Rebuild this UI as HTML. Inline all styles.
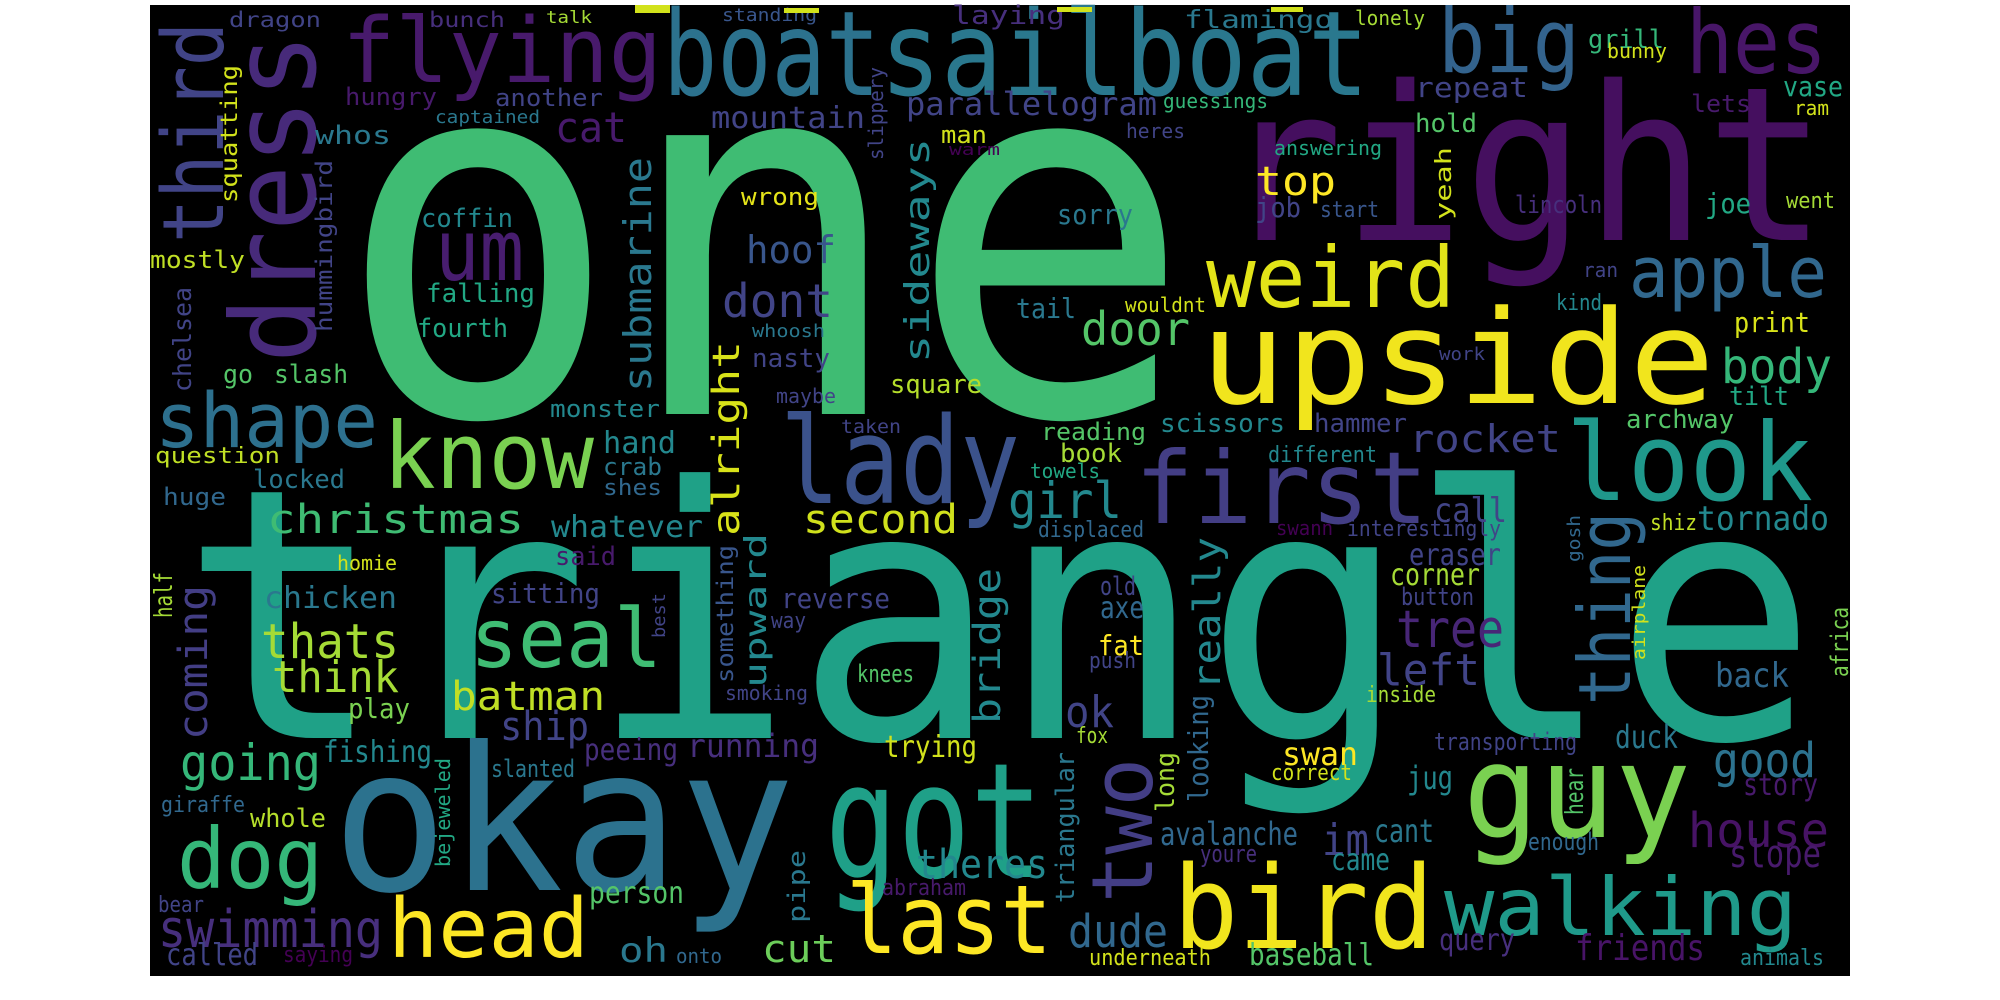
<!DOCTYPE html>
<html><head><meta charset="utf-8"><style>
html,body{margin:0;padding:0;background:#fff;width:2000px;height:1000px;overflow:hidden}
svg{display:block}
text{font-family:"DejaVu Sans Mono","Liberation Mono",monospace}
</style></head><body>
<svg id="cloud" width="2000" height="1000" viewBox="0 0 2000 1000" xmlns="http://www.w3.org/2000/svg">
<rect x="150" y="5" width="1700" height="971" fill="#000"/>
<g id="words"></g>
<rect x="635" y="5" width="35" height="8" fill="#d2e21b"/>
<rect x="784" y="8" width="35" height="5" fill="#d2e21b"/>
<rect x="1057" y="7" width="35" height="5" fill="#d2e21b"/>
<rect x="1271" y="7" width="32" height="5" fill="#d2e21b"/>
</svg>
<script>
// horizontal words: [text, x, baseline, fontSize, width, color]
const horizontalWords = [
["dragon",229,27,21,92,"#414487"],["bunch",429,27,21,76,"#472f7d"],["talk",546,23,17,46,"#a5db36"],
["standing",722,21,18,95,"#39568c"],["laying",952,24,26,113,"#472f7d"],["flying",342,82,90,320,"#481a6c"],
["boat",663,95,118,217,"#2c728e"],["sailboat",880,95,118,489,"#2a788e"],["flamingo",1184,28,25,149,"#2a788e"],
["lonely",1355,25,20,70,"#a5db36"],["big",1438,72,88,142,"#33638d"],["hes",1686,73,88,141,"#481668"],
["grill",1588,48,26,76,"#35b779"],["bunny",1607,58,20,60,"#d2e21b"],["vase",1783,96,28,60,"#22a884"],
["ram",1794,115,20,35,"#d2e21b"],["lets",1691,112,24,60,"#481a6c"],["repeat",1415,97,28,113,"#414487"],
["guessings",1163,108,20,105,"#35b779"],["parallelogram",906,115,32,251,"#414487"],["mountain",711,128,30,154,"#414487"],
["hungry",345,105,24,92,"#481a6c"],["another",495,106,24,108,"#414487"],["captained",435,123,18,105,"#2a788e"],
["cat",555,142,42,72,"#481a6c"],["whos",315,144,26,76,"#2a788e"],["man",941,143,24,46,"#d2e21b"],
["warm",949,155,16,51,"#440154"],["heres",1126,138,20,59,"#414487"],["hold",1415,132,26,62,"#54c568"],
["answering",1274,155,20,108,"#22a884"],["top",1255,195,40,81,"#fde725"],["job",1255,217,28,46,"#414487"],
["start",1320,217,22,59,"#39568c"],["lincoln",1515,213,24,87,"#472f7d"],["joe",1705,213,28,46,"#22a884"],
["went",1786,208,22,49,"#a5db36"],["sorry",1057,224,28,76,"#2a788e"],["one",335,414,510,858,"#3fbc73"],
["right",1222,240,215,605,"#450f5f"],["um",435,280,85,89,"#481d6f"],["coffin",421,227,26,92,"#23888e"],
["wrong",741,205,24,78,"#e5e419"],["hoof",746,263,38,90,"#39568c"],["mostly",150,268,24,95,"#c0df25"],
["weird",1206,307,84,249,"#e2e418"],["apple",1629,297,70,198,"#31688e"],["ran",1583,277,20,35,"#414487"],
["tail",1016,318,28,60,"#2a788e"],["wouldnt",1125,312,20,81,"#d2e21b"],["kind",1556,310,22,46,"#23888e"],
["falling",426,302,26,109,"#22a884"],["dont",722,317,46,111,"#414487"],["fourth",417,337,26,91,"#22a884"],
["whoosh",752,337,18,73,"#2a788e"],["door",1081,345,46,109,"#54c568"],["upside",1200,403,130,515,"#f1e51d"],
["print",1734,332,28,76,"#d8e219"],["body",1721,383,48,111,"#35b779"],["work",1439,360,18,46,"#414487"],
["nasty",752,367,26,78,"#414487"],["go",223,383,26,30,"#54c568"],["slash",274,383,26,74,"#54c568"],
["square",890,393,26,92,"#b5de2b"],["maybe",776,403,20,60,"#414487"],["tilt",1729,405,26,60,"#22a884"],
["monster",550,417,24,110,"#23888e"],["scissors",1160,432,26,125,"#23888e"],["hammer",1314,432,26,93,"#414487"],
["archway",1626,428,26,108,"#54c568"],["taken",841,433,19,60,"#414487"],["rocket",1409,452,38,152,"#414487"],
["reading",1041,440,24,105,"#54c568"],["shape",155,447,76,223,"#2d708e"],["hand",603,453,30,73,"#23888e"],
["book",1060,462,26,62,"#a5db36"],["different",1268,462,22,109,"#23888e"],["question",155,463,22,125,"#c0df25"],
["crab",603,475,24,59,"#2a788e"],["towels",1030,478,20,70,"#22a884"],["know",383,488,92,211,"#7ad151"],
["locked",253,488,26,92,"#2a788e"],["shes",603,495,22,59,"#31688e"],["lady",780,503,120,240,"#3b528b"],
["huge",163,505,24,63,"#31688e"],["look",1566,500,108,247,"#1f988b"],["first",1135,523,100,293,"#433e85"],
["girl",1008,518,50,114,"#23888e"],["call",1434,522,34,73,"#414487"],["christmas",267,533,40,257,"#3fbc73"],
["whatever",551,537,30,152,"#23888e"],["second",803,533,40,155,"#d0e11c"],["displaced",1038,537,22,106,"#31688e"],
["swann",1276,535,20,57,"#440154"],["interestingly",1347,536,22,154,"#414487"],["shiz",1650,530,22,47,"#c0df25"],
["tornado",1697,530,34,132,"#23888e"],["eraser",1409,565,30,92,"#414487"],["homie",337,570,20,60,"#d2e21b"],
["said",555,565,26,61,"#481a6c"],["corner",1390,585,30,90,"#a5db36"],["old",1100,595,26,36,"#414487"],
["chicken",264,608,30,133,"#2a788e"],["sitting",491,603,28,109,"#414487"],["reverse",781,608,28,109,"#414487"],
["button",1401,605,24,73,"#414487"],["axe",1100,618,30,44,"#31688e"],["way",771,628,22,35,"#414487"],
["tree",1396,647,52,108,"#482677"],["fat",1098,655,28,46,"#fde725"],["thats",261,658,48,138,"#a5db36"],
["seal",470,667,82,192,"#3fbc73"],["push",1089,668,22,47,"#414487"],["knees",857,682,24,57,"#54c568"],
["left",1377,685,44,103,"#414487"],["back",1715,687,34,74,"#31688e"],["think",272,692,44,127,"#a5db36"],
["inside",1366,702,22,70,"#a5db36"],["smoking",725,700,20,83,"#414487"],["batman",451,710,40,154,"#c0df25"],
["play",348,718,28,62,"#7ad151"],["ok",1065,727,44,49,"#414487"],["triangle",180,738,350,1638,"#1fa187"],
["ship",500,740,40,89,"#414487"],["fox",1076,743,22,32,"#a5db36"],["duck",1615,748,32,63,"#2a788e"],
["transporting",1434,750,24,143,"#414487"],["running",687,757,32,132,"#472f7d"],["peeing",584,760,30,94,"#472f7d"],
["trying",884,757,30,93,"#d2e21b"],["fishing",323,762,30,109,"#23888e"],["swan",1282,765,32,76,"#fde725"],
["correct",1271,780,22,81,"#d2e21b"],["slanted",491,777,24,84,"#2a788e"],["going",180,780,50,141,"#35b779"],
["good",1713,777,48,103,"#2c728e"],["jug",1407,789,32,46,"#23888e"],["story",1743,795,30,75,"#481a6c"],
["giraffe",161,812,22,84,"#31688e"],["whole",250,827,26,76,"#b5de2b"],["guy",1463,837,130,228,"#7ad151"],
["avalanche",1160,845,32,138,"#31688e"],["cant",1374,842,32,60,"#2a788e"],["house",1688,847,48,141,"#471365"],
["enough",1528,850,24,71,"#31688e"],["im",1322,855,44,47,"#414487"],["youre",1200,862,24,57,"#472f7d"],
["came",1331,870,30,59,"#23888e"],["slope",1729,867,38,92,"#481a6c"],["got",825,877,160,218,"#1fa088"],
["theres",916,878,40,132,"#23888e"],["okay",332,890,200,463,"#2c728e"],["dog",177,888,84,146,"#35b779"],
["abraham",882,895,22,84,"#481a6c"],["person",589,903,30,95,"#54c568"],["bear",158,912,22,46,"#414487"],
["walking",1444,935,80,353,"#1f9a8a"],["bird",1173,948,115,261,"#f1e51d"],["swimming",158,947,52,225,"#472f7d"],
["dude",1068,947,45,100,"#31688e"],["last",846,953,95,206,"#fde725"],["query",1439,950,30,76,"#472f7d"],
["head",388,957,82,201,"#fde725"],["oh",619,962,34,49,"#2a788e"],["cut",762,962,38,74,"#6ccd5a"],
["onto",676,963,20,46,"#31688e"],["friends",1575,960,36,130,"#481467"],["called",166,965,30,92,"#414487"],
["saying",283,962,22,70,"#440154"],["underneath",1089,965,22,122,"#d2e21b"],["baseball",1249,965,30,125,"#54c568"],
["animals",1740,965,22,84,"#23888e"]
];
// vertical words (read bottom to top): [text, baselineX, bottomY, fontSize, length, color]
const verticalWords = [
["third",223,243,85,221,"#414487"],["dress",315,363,117,330,"#472a7a"],["squatting",237,203,23,138,"#d2e21b"],
["hummingbird",332,332,23,172,"#414487"],["submarine",651,392,38,235,"#2a788e"],["sideways",929,363,34,225,"#23888e"],
["slippery",883,160,20,93,"#414487"],["yeah",1451,220,22,73,"#d2e21b"],["chelsea",191,392,25,105,"#414487"],
["alright",739,536,37,195,"#d8e219"],["half",172,618,25,46,"#a5db36"],["coming",207,740,40,155,"#433e85"],
["best",665,638,18,45,"#414487"],["something",733,683,23,138,"#39568c"],["upward",766,688,30,155,"#23888e"],
["bridge",1000,724,37,156,"#23888e"],["bejeweled",450,867,20,109,"#22a884"],["pipe",805,923,24,73,"#2a788e"],
["thing",1630,705,72,193,"#31688e"],["gosh",1580,562,18,47,"#31688e"],["airplane",1645,660,18,95,"#d2e21b"],
["africa",1848,677,24,70,"#7ad151"],["really",1220,690,37,153,"#23888e"],["looking",1208,802,28,107,"#31688e"],
["triangular",1074,903,26,151,"#2a788e"],["two",1152,903,85,145,"#433e85"],["long",1174,812,26,60,"#a5db36"],
["hear",1583,815,25,47,"#54c568"]
];
const NS = "http://www.w3.org/2000/svg";
const g = document.getElementById("words");
function makeWord(w, vertical) {
  const t = document.createElementNS(NS, "text");
  t.setAttribute("x", w[1]);
  t.setAttribute("y", w[2]);
  t.setAttribute("font-size", w[3]);
  t.setAttribute("textLength", w[4]);
  t.setAttribute("lengthAdjust", "spacingAndGlyphs");
  t.setAttribute("fill", w[5]);
  if (vertical) t.setAttribute("transform", "rotate(-90 " + w[1] + " " + w[2] + ")");
  t.textContent = w[0];
  
  
  g.appendChild(t);
}
const allWords = horizontalWords.map(w => [w, false]).concat(verticalWords.map(w => [w, true]));
allWords.sort((a, b) => b[0][3] - a[0][3]);
allWords.forEach(p => makeWord(p[0], p[1]));
</script>
</body></html>
